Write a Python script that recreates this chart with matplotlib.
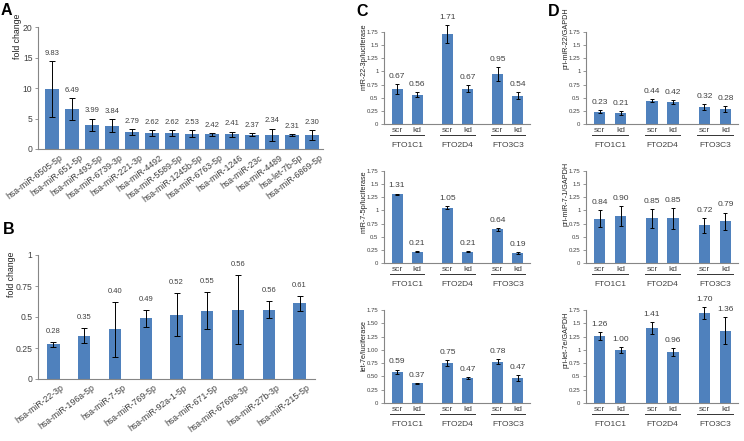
import numpy as np
import matplotlib
matplotlib.use('Agg')
import matplotlib.pyplot as plt
import matplotlib.transforms as mtransforms

plt.rcParams['font.family'] = ['Liberation Sans', 'DejaVu Sans']

BAR = '#4f81bd'
AXC = '#868686'
TXT = '#404040'

# panel A
a_labels = ['hsa-miR-6505-5p', 'hsa-miR-651-5p', 'hsa-miR-493-5p', 'hsa-miR-6739-3p',
            'hsa-miR-221-3p', 'hsa-miR-4492', 'hsa-miR-5589-5p', 'hsa-miR-1245b-5p',
            'hsa-miR-6763-5p', 'hsa-miR-1246', 'hsa-miR-23c', 'hsa-miR-4489',
            'hsa-let-7b-5p', 'hsa-miR-6869-5p']
a_vals = [9.83, 6.49, 3.99, 3.84, 2.79, 2.62, 2.62, 2.53, 2.42, 2.41, 2.37, 2.34, 2.31, 2.30]
a_err = [4.65, 1.8, 1.0, 1.0, 0.45, 0.5, 0.5, 0.55, 0.25, 0.45, 0.2, 1.0, 0.15, 0.8]

# panel B
b_labels = ['hsa-miR-22-3p', 'hsa-miR-196a-5p', 'hsa-miR-7-5p', 'hsa-miR-769-5p',
            'hsa-miR-92a-1-5p', 'hsa-miR-671-5p', 'hsa-miR-6769a-3p', 'hsa-miR-27b-3p',
            'hsa-miR-215-5p']
b_vals = [0.28, 0.35, 0.40, 0.49, 0.52, 0.55, 0.56, 0.56, 0.61]
b_err = [0.02, 0.06, 0.22, 0.07, 0.17, 0.15, 0.28, 0.07, 0.06]

# panels C, D
groups = ['FTO1C1', 'FTO2D4', 'FTO3C3']
conds = ['scr', 'kd']
c1_vals = [0.67, 0.56, 1.71, 0.67, 0.95, 0.54]
c1_err = [0.09, 0.05, 0.17, 0.07, 0.13, 0.06]
c2_vals = [1.31, 0.21, 1.05, 0.21, 0.64, 0.19]
c2_err = [0.01, 0.01, 0.03, 0.01, 0.03, 0.02]
c3_vals = [0.59, 0.37, 0.75, 0.47, 0.78, 0.47]
c3_err = [0.04, 0.01, 0.05, 0.02, 0.04, 0.05]
d1_vals = [0.23, 0.21, 0.44, 0.42, 0.32, 0.28]
d1_err = [0.03, 0.03, 0.03, 0.04, 0.06, 0.06]
d2_vals = [0.84, 0.90, 0.85, 0.85, 0.72, 0.79]
d2_err = [0.16, 0.19, 0.18, 0.20, 0.14, 0.17]
d3_vals = [1.26, 1.00, 1.41, 0.96, 1.70, 1.36]
d3_err = [0.07, 0.05, 0.12, 0.07, 0.11, 0.25]

W, H = 744, 441
fig = plt.figure(figsize=(W / 100, H / 100), dpi=100)


def px_axes(l, r, t, b):
    return fig.add_axes([l / W, 1 - b / H, (r - l) / W, (b - t) / H])


def style(ax, ysize):
    for s in ['top', 'right']:
        ax.spines[s].set_visible(False)
    for s in ['left', 'bottom']:
        ax.spines[s].set_color(AXC)
        ax.spines[s].set_linewidth(0.8)
    ax.tick_params(axis='y', length=2, width=0.6, color=AXC, labelsize=ysize, labelcolor=TXT, pad=2)
    ax.tick_params(axis='x', length=0, labelcolor=TXT)


def bars(ax, x, vals, err, width, lsize, cap, off):
    ax.bar(x, vals, width=width, color=BAR, zorder=2)
    ax.errorbar(x, vals, yerr=err, fmt='none', ecolor='black', elinewidth=0.7,
                capsize=cap, capthick=0.7, zorder=3, clip_on=False)
    for xi, v, e in zip(x, vals, err):
        ax.annotate('%.2f' % v, (xi, v + e), xytext=(0, off), textcoords='offset points',
                    ha='center', va='bottom', fontsize=lsize, color=TXT, annotation_clip=False)


def ylab(x, y, s, size):
    fig.text(x / W, 1 - y / H, s, rotation=90, ha='center', va='top', fontsize=size, color='#222222')


def rot_labels(ax, labels):
    ax.set_xticklabels(labels, rotation=37, ha='right', va='top', rotation_mode='anchor', fontsize=6.3)
    ax.tick_params(axis='x', pad=3)
    shift = mtransforms.ScaledTranslation(0.07, 0, fig.dpi_scale_trans)
    for lab in ax.get_xticklabels():
        lab.set_transform(lab.get_transform() + shift)


# A
ax = px_axes(38, 323, 27, 149)
xa = np.arange(len(a_vals))
bars(ax, xa, a_vals, a_err, 0.66, 5.5, 2, 3)
ax.set_xlim(-0.7, len(a_vals) - 0.45)
ax.set_ylim(0, 20)
ax.set_yticks([0, 5, 10, 15, 20])
style(ax, 6.2)
ax.set_xticks(xa)
rot_labels(ax, a_labels)
ylab(17, 14, 'fold change', 6.3)

# B
ax = px_axes(38, 315, 255, 379)
xb = np.arange(len(b_vals))
bars(ax, xb, b_vals, b_err, 0.4, 5.5, 2, 5)
ax.set_xlim(-0.5, len(b_vals) - 0.5)
ax.set_ylim(0, 1)
ax.set_yticks([0, 0.25, 0.5, 0.75, 1])
ax.set_yticklabels(['0', '0.25', '0.5', '0.75', '1'])
style(ax, 6.2)
ax.set_xticks(xb)
rot_labels(ax, b_labels)
ylab(12, 252, 'fold change', 6.3)

# C / D
xg = np.array([0, 1, 2.5, 3.5, 5, 6])
general = ['0', '0.25', '0.5', '0.75', '1', '1.25', '1.5', '1.75']
twodec = ['0', '0.25', '0.50', '0.75', '1.00', '1.25', '1.50', '1.75']
rows = [(32, 124), (171, 263), (310, 403)]
panels = [
    (384, 530, 364, c1_vals, c1_err, 'miR-22-3p/luciferase', 23, general),
    (384, 530, 364, c2_vals, c2_err, 'miR-7-5p/luciferase', 170, general),
    (384, 530, 364, c3_vals, c3_err, 'let-7e/luciferase', 320, twodec),
    (586, 738, 566, d1_vals, d1_err, 'pri-miR-22/GAPDH', 7, general),
    (586, 738, 566, d2_vals, d2_err, 'pri-miR-7-1/GAPDH', 162, general),
    (586, 738, 566, d3_vals, d3_err, 'pri-let-7e/GAPDH', 312, general),
]
for i, (l, r, lx, vals, err, name, ly, tl) in enumerate(panels):
    t, b = rows[i % 3]
    ax = px_axes(l, r, t, b)
    bars(ax, xg, vals, err, 0.55, 6, 1.5, 3)
    ax.set_xlim(-0.65, 6.6)
    ax.set_ylim(0, 1.75)
    ax.set_yticks(np.arange(0, 1.76, 0.25))
    ax.set_yticklabels(tl)
    style(ax, 4.3)
    ax.set_xticks(xg)
    ax.set_xticklabels(conds * 3, fontsize=6)
    ax.tick_params(axis='x', pad=2)
    trans = ax.get_xaxis_transform() + mtransforms.ScaledTranslation(0, -0.11, fig.dpi_scale_trans)
    for k, g in enumerate(groups):
        x0 = xg[2 * k]
        x1 = xg[2 * k + 1]
        ax.plot([x0 - 0.35, x1 + 0.35], [0, 0], color='#333333', lw=0.7, transform=trans, clip_on=False)
        ax.annotate(g, ((x0 + x1) / 2, 0), xycoords=('data', 'axes fraction'),
                    xytext=(0, -13), textcoords='offset points', ha='center', va='top',
                    fontsize=6, color=TXT)
    ylab(lx, ly, name, 5.2)

for s, x, y in [('A', 1, 3), ('B', 3, 222), ('C', 356, 4), ('D', 548, 4)]:
    fig.text(x / W, 1 - y / H, s, fontsize=11.5, fontweight='bold', va='top', ha='left')

fig.savefig('out.png', dpi=100)
